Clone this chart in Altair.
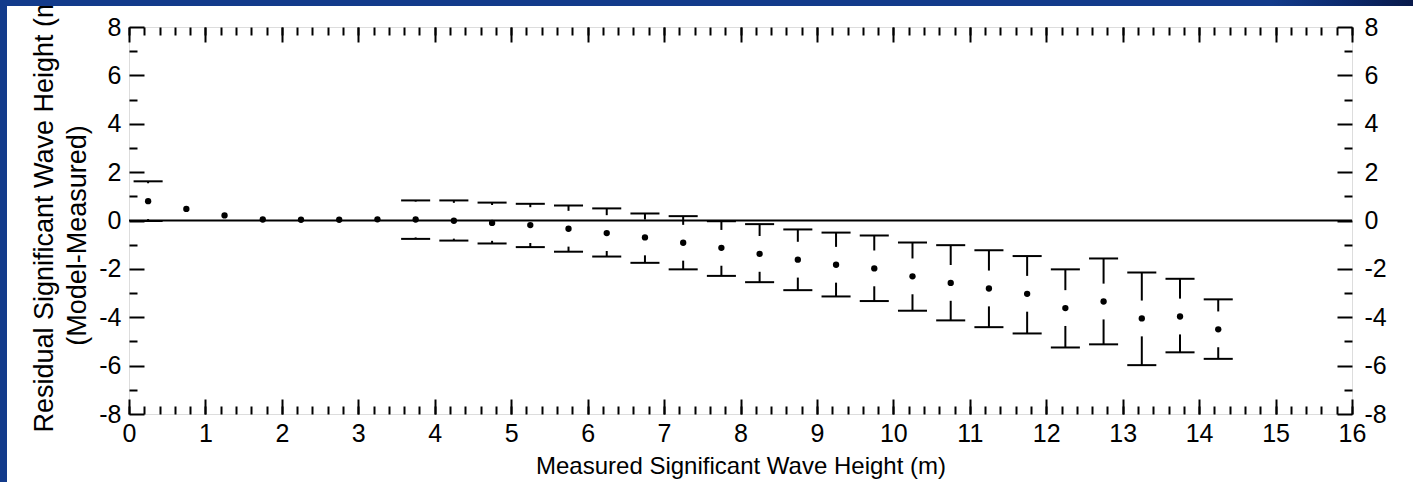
import altair as alt
import pandas as pd

# ---- data ----
bin_centre = [0.25, 0.75, 1.25, 1.75, 2.25, 2.75, 3.25, 3.75, 4.25, 4.75,
              5.25, 5.75, 6.25, 6.75, 7.25, 7.75, 8.25, 8.75, 9.25, 9.75,
              10.25, 10.75, 11.25, 11.75, 12.25, 12.75, 13.25, 13.75, 14.25]
mean_resid = [0.80, 0.48, 0.21, 0.04, 0.03, 0.03, 0.05, 0.04, -0.01, -0.10,
              -0.19, -0.34, -0.52, -0.70, -0.92, -1.13, -1.38, -1.62, -1.83, -1.98,
              -2.31, -2.58, -2.81, -3.03, -3.62, -3.35, -4.05, -3.97, -4.50]
upper_bar = [1.62, None, None, None, None, None, None, 0.83, 0.83, 0.74,
             0.69, 0.62, 0.50, 0.29, 0.18, -0.03, -0.15, -0.37, -0.50, -0.62,
             -0.91, -1.02, -1.23, -1.47, -2.02, -1.57, -2.15, -2.41, -3.26]
lower_bar = [-0.02, None, None, None, None, None, None, -0.76, -0.83, -0.95,
             -1.10, -1.29, -1.49, -1.75, -2.02, -2.29, -2.55, -2.88, -3.14, -3.33,
             -3.73, -4.13, -4.41, -4.67, -5.25, -5.12, -5.98, -5.45, -5.72]

x_major = list(range(0, 17))
x_minor = [round(i * 0.2, 1) for i in range(0, 81)]
y_major = [-8, -6, -4, -2, 0, 2, 4, 6, 8]
y_minor = [-7, -5, -3, -1, 1, 3, 5, 7]

# ---- style ----
W, H = 1223, 387
PL, PT, PR, PB = 129, 27, 61, 68
CAP_HALF = 0.19      # half width of the caps (x units)
GAP = 0.74           # gap between whisker and point (y units)
FONT = "Liberation Sans, Arial, sans-serif"
BLUE = "#133b8b"

pts = pd.DataFrame({"x": bin_centre, "mean": mean_resid})

cap_rows, stem_rows = [], []
for xc, m, u, l in zip(bin_centre, mean_resid, upper_bar, lower_bar):
    if u is not None:
        cap_rows.append({"x0": xc - CAP_HALF, "x1": xc + CAP_HALF, "y": u})
        if u > m + GAP:
            stem_rows.append({"x": xc, "y0": u, "y1": m + GAP})
    if l is not None:
        cap_rows.append({"x0": xc - CAP_HALF, "x1": xc + CAP_HALF, "y": l})
        if l < m - GAP:
            stem_rows.append({"x": xc, "y0": l, "y1": m - GAP})
caps = pd.DataFrame(cap_rows)
stems = pd.DataFrame(stem_rows)

xs = alt.Scale(domain=[0, 16], nice=False, zero=False)
ys = alt.Scale(domain=[-8, 8], nice=False, zero=False)

zero = alt.Chart(pd.DataFrame({"z": [0]})).mark_rule(color="black", strokeWidth=2).encode(
    y=alt.Y("z:Q", scale=ys, axis=None))

cap_layer = alt.Chart(caps).mark_rule(color="black", strokeWidth=2).encode(
    x=alt.X("x0:Q", scale=xs, axis=None), x2="x1:Q",
    y=alt.Y("y:Q", scale=ys, axis=None))

stem_layer = alt.Chart(stems).mark_rule(color="black", strokeWidth=2).encode(
    x=alt.X("x:Q", scale=xs, axis=None),
    y=alt.Y("y0:Q", scale=ys, axis=None), y2="y1:Q")

point_layer = alt.Chart(pts).mark_point(filled=True, shape="circle", size=40,
                                        color="black", opacity=1).encode(
    x=alt.X("x:Q", scale=xs, axis=None),
    y=alt.Y("mean:Q", scale=ys, axis=None))

label_common = dict(labelFont=FONT, labelFontSize=25, labelColor="black",
                    labelFlush=False, labelOverlap=False,
                    labelExpr="'' + datum.value", grid=False, domain=False)
tick_common = dict(labels=False, domain=False, grid=False, title=None,
                   tickColor="black", tickWidth=2)

x_lab = alt.Axis(orient="bottom", values=x_major, ticks=False, labelPadding=7,
                 title="Measured Significant Wave Height (m)", titleFont=FONT,
                 titleFontSize=24, titleFontWeight="normal", titleColor="black",
                 titleY=59, titleBaseline="alphabetic", **label_common)
x_maj_bot = alt.Axis(orient="top", offset=-H, values=x_major, tickSize=15, **tick_common)
x_min_bot = alt.Axis(orient="top", offset=-H, values=x_minor, tickSize=8, **tick_common)
x_maj_top = alt.Axis(orient="bottom", offset=-H, values=x_major, tickSize=15, **tick_common)
x_min_top = alt.Axis(orient="bottom", offset=-H, values=x_minor, tickSize=8, **tick_common)

y_lab_l = alt.Axis(orient="left", values=y_major, ticks=False, labelPadding=8,
                   title="Residual Significant Wave Height (m)", titleFont=FONT,
                   titleFontSize=27, titleFontWeight="normal", titleColor="black",
                   titleAngle=270, titleX=-77, titleY=182, titleAlign="center",
                   titleBaseline="alphabetic", **label_common)
y_lab_r = alt.Axis(orient="right", values=y_major, ticks=False, labelPadding=12,
                   title=None, **label_common)
y_title2 = alt.Axis(orient="left", values=y_major, ticks=False, labels=False, domain=False,
                    grid=False, title="(Model-Measured)", titleFont=FONT,
                    titleFontSize=27, titleFontWeight="normal", titleColor="black",
                    titleAngle=270, titleX=-44, titleY=208, titleAlign="center",
                    titleBaseline="alphabetic")
y_maj_l = alt.Axis(orient="right", offset=-W, values=y_major, tickSize=15, **tick_common)
y_min_l = alt.Axis(orient="right", offset=-W, values=y_minor, tickSize=8, **tick_common)
y_maj_r = alt.Axis(orient="left", offset=-W, values=y_major, tickSize=15, **tick_common)
y_min_r = alt.Axis(orient="left", offset=-W, values=y_minor, tickSize=8, **tick_common)


def carrier(xaxis, yaxis):
    return alt.Chart(pts).mark_point(opacity=0).encode(
        x=alt.X("x:Q", scale=xs, axis=xaxis),
        y=alt.Y("mean:Q", scale=ys, axis=yaxis))


carriers = [
    carrier(x_lab, y_lab_l),
    carrier(x_maj_bot, y_lab_r),
    carrier(x_min_bot, y_title2),
    carrier(x_maj_top, y_maj_l),
    carrier(x_min_top, y_min_l),
    carrier(None, y_maj_r),
    carrier(None, y_min_r),
]

one = alt.Data(values=[{"a": 1}])
frame_top = alt.Chart(one).mark_rect(
    clip=False,
    fill=alt.Gradient(gradient="linear", x1=0, x2=1, y1=0, y2=0,
                      stops=[alt.GradientStop(color=BLUE, offset=0),
                             alt.GradientStop(color=BLUE, offset=0.9),
                             alt.GradientStop(color="#0c2a6e", offset=0.95),
                             alt.GradientStop(color="#08194a", offset=1)])
).encode(x=alt.value(-PL), x2=alt.value(W + PR), y=alt.value(-PT), y2=alt.value(-PT + 6))
frame_left = alt.Chart(one).mark_rect(clip=False, fill=BLUE).encode(
    x=alt.value(-PL), x2=alt.value(-PL + 7), y=alt.value(-PT), y2=alt.value(H + PB))

chart = alt.layer(
    zero, cap_layer, stem_layer, point_layer, *carriers, frame_top, frame_left
).resolve_axis(x="independent", y="independent").properties(
    width=W, height=H,
    padding={"left": PL, "top": PT, "right": PR, "bottom": PB},
    autosize=alt.AutoSizeParams(type="none"),
).configure_view(stroke="black", strokeWidth=2, fill="white").configure(background="white")

chart.save("out.html", embed_options={"renderer": "svg", "actions": False})
